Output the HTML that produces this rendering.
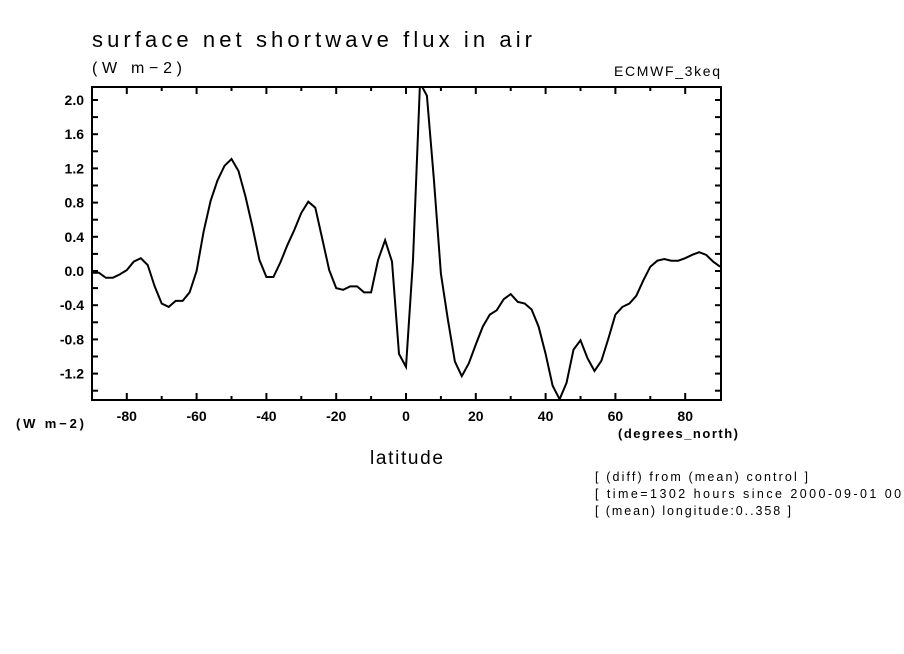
<!DOCTYPE html>
<html><head><meta charset="utf-8"><style>
html,body{margin:0;padding:0;background:#fff;}
svg{display:block;font-family:"Liberation Sans",sans-serif;}
</style></head><body>
<svg id="chart" width="904" height="654" viewBox="0 0 904 654" xmlns="http://www.w3.org/2000/svg">
<rect width="904" height="654" fill="#fff"/>
<text x="92" y="47" font-size="22" fill="#000" textLength="440" lengthAdjust="spacing">surface net shortwave flux in air</text>
<text x="92" y="73" font-size="16" fill="#000" textLength="90" lengthAdjust="spacing">(W m−2)</text>
<text x="614" y="76" font-size="14" fill="#000" textLength="106" lengthAdjust="spacing">ECMWF_3keq</text>
<defs><clipPath id="plotclip"><rect x="92" y="87" width="629" height="313"/></clipPath></defs>
<g id="ticks"></g>
<g id="series" clip-path="url(#plotclip)"></g>
<rect x="92" y="87" width="629" height="313" fill="none" stroke="#000" stroke-width="2"/>
<text x="16" y="428" font-size="13" font-weight="bold" fill="#000" textLength="68" lengthAdjust="spacing">(W m−2)</text>
<text x="618" y="438" font-size="13" font-weight="bold" fill="#000" textLength="120" lengthAdjust="spacing">(degrees_north)</text>
<text x="370" y="464" font-size="19" fill="#000" textLength="73" lengthAdjust="spacing">latitude</text>
<text x="595" y="481" font-size="12.5" fill="#000" textLength="213" lengthAdjust="spacing">[ (diff) from (mean) control ]</text>
<text x="595" y="498" font-size="12.5" fill="#000" textLength="312" lengthAdjust="spacing">[ time=1302 hours since 2000-09-01 00:</text>
<text x="595" y="515" font-size="12.5" fill="#000" textLength="196" lengthAdjust="spacing">[ (mean) longitude:0..358 ]</text>
</svg>
<script>
const latitudes = [-90,-88,-86,-84,-82,-80,-78,-76,-74,-72,-70,-68,-66,-64,-62,-60,-58,-56,-54,-52,-50,-48,-46,-44,-42,-40,-38,-36,-34,-32,-30,-28,-26,-24,-22,-20,-18,-16,-14,-12,-10,-8,-6,-4,-2,0,2,4,6,8,10,12,14,16,18,20,22,24,26,28,30,32,34,36,38,40,42,44,46,48,50,52,54,56,58,60,62,64,66,68,70,72,74,76,78,80,82,84,86,88,90];
const fluxValues = [-0.02,-0.02,-0.08,-0.08,-0.04,0.01,0.11,0.15,0.07,-0.18,-0.38,-0.42,-0.35,-0.35,-0.25,0.0,0.46,0.82,1.06,1.23,1.31,1.17,0.87,0.52,0.13,-0.07,-0.07,0.10,0.30,0.48,0.68,0.81,0.74,0.38,0.01,-0.20,-0.22,-0.18,-0.18,-0.25,-0.25,0.13,0.36,0.11,-0.97,-1.12,0.13,2.2,2.05,1.07,-0.03,-0.57,-1.06,-1.23,-1.08,-0.86,-0.65,-0.51,-0.46,-0.33,-0.27,-0.36,-0.38,-0.45,-0.65,-0.97,-1.34,-1.50,-1.31,-0.92,-0.81,-1.02,-1.17,-1.05,-0.79,-0.51,-0.42,-0.38,-0.29,-0.11,0.05,0.12,0.14,0.12,0.12,0.15,0.19,0.22,0.19,0.11,0.05];
const xTickLabels = [-80,-60,-40,-20,0,20,40,60,80];
const yTickLabels = ["-1.2","-0.8","-0.4","0.0","0.4","0.8","1.2","1.6","2.0"];

const NS = "http://www.w3.org/2000/svg";
const X0 = 92, X1 = 721, Y0 = 87, Y1 = 400;
function xScale(lat){ return 406 + (lat) * 3.49; }
function yScale(v){ return 271 - v * 85.5; }

const tg = document.getElementById('ticks');
function line(x1,y1,x2,y2,w){
  const l = document.createElementNS(NS,'line');
  l.setAttribute('x1',x1);l.setAttribute('y1',y1);l.setAttribute('x2',x2);l.setAttribute('y2',y2);
  l.setAttribute('stroke','#000');l.setAttribute('stroke-width',w||2);
  
  
  tg.appendChild(l);
}
for (let lat=-80; lat<=80; lat+=10){
  const x = xScale(lat), len = (lat%20===0)?7:4;
  line(x,Y1,x,Y1-len); line(x,Y0,x,Y0+len);
}
for (let k=-7; k<=10; k++){
  const v = k*0.2, y = yScale(v);
  if (y < Y0 || y > Y1) continue;
  line(X0,y,X0+6,y); line(X1,y,X1-6,y);
}
xTickLabels.forEach(v=>{
  const t = document.createElementNS(NS,'text');
  t.setAttribute('x',xScale(v)); t.setAttribute('y',421);
  t.setAttribute('text-anchor','middle'); t.setAttribute('font-size','14'); t.setAttribute('font-weight','bold');
  t.textContent = v;
  
  
  tg.appendChild(t);
});
yTickLabels.forEach(s=>{
  const t = document.createElementNS(NS,'text');
  t.setAttribute('x',84); t.setAttribute('y',yScale(parseFloat(s))+5);
  t.setAttribute('text-anchor','end'); t.setAttribute('font-size','14'); t.setAttribute('font-weight','bold');
  t.textContent = s;
  
  
  tg.appendChild(t);
});
const pts = latitudes.map((lat,i)=>xScale(lat).toFixed(1)+','+yScale(fluxValues[i]).toFixed(1)).join(' ');
const pl = document.createElementNS(NS,'polyline');
pl.setAttribute('points',pts); pl.setAttribute('fill','none');
pl.setAttribute('stroke','#000'); pl.setAttribute('stroke-width','2'); pl.setAttribute('stroke-linejoin','miter');


document.getElementById('series').appendChild(pl);
</script>
</body></html>
